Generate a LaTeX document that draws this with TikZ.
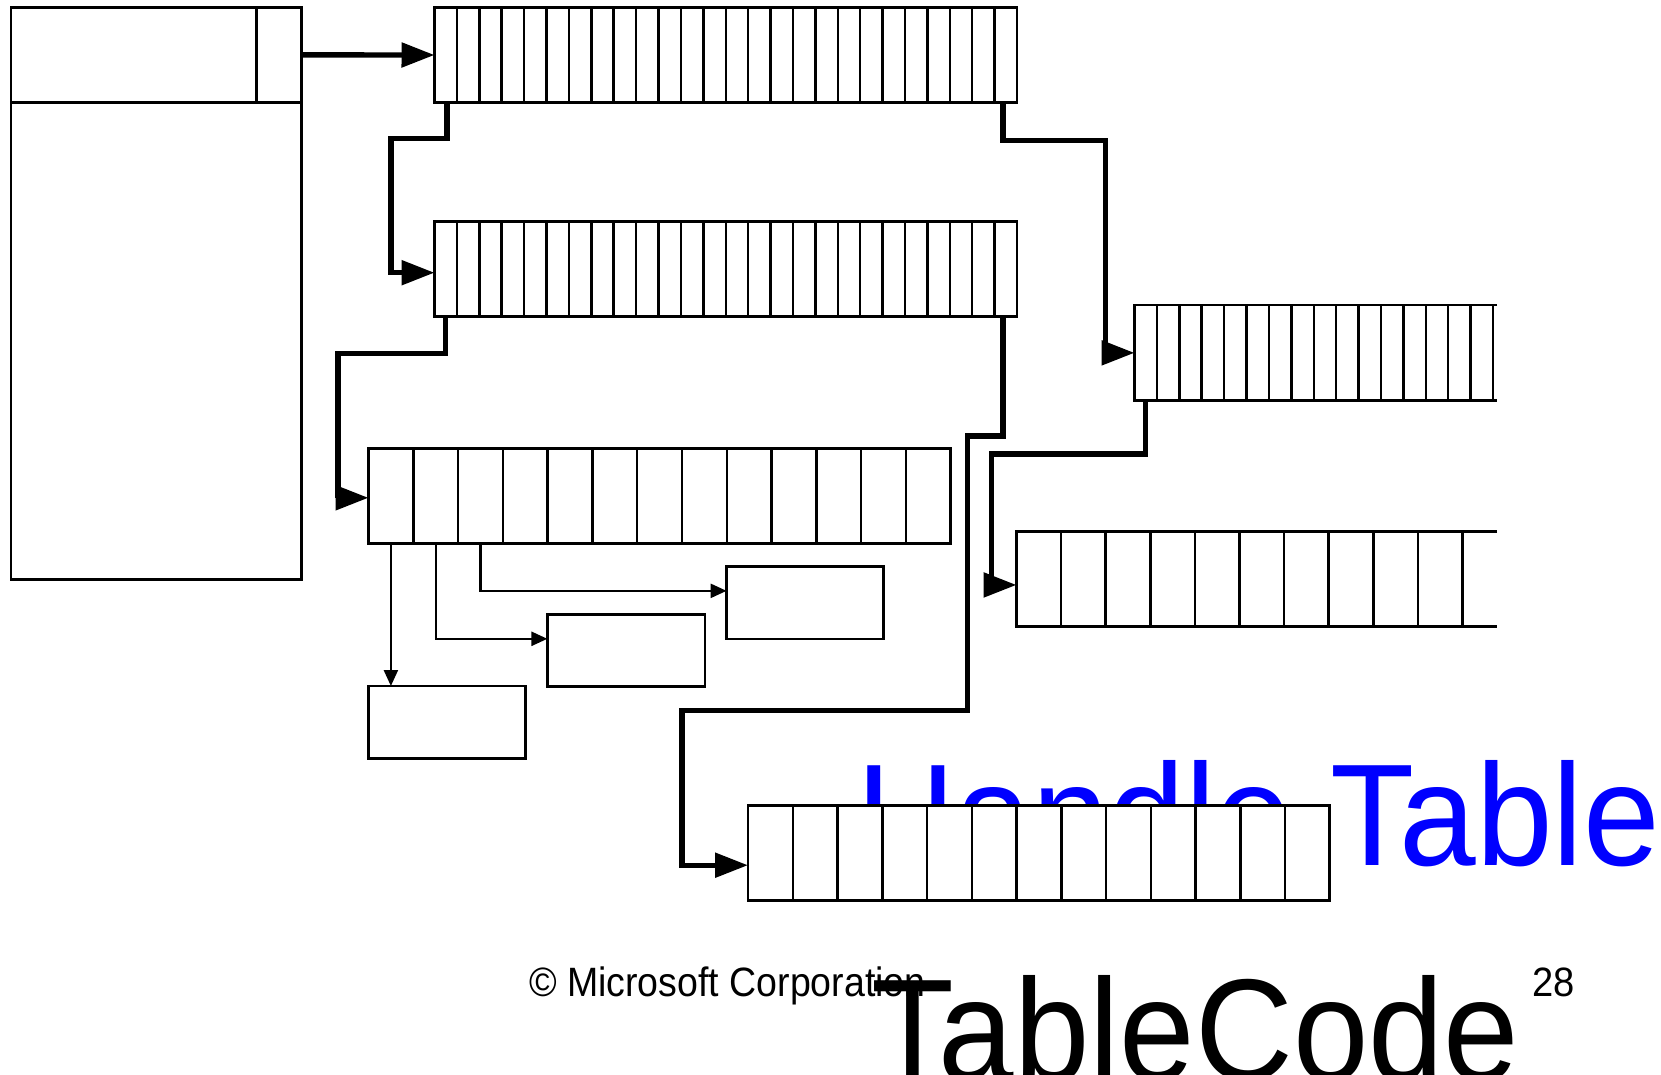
\documentclass[tikz,border=0pt]{standalone}
\usepackage{fontspec}
\setmainfont{Liberation Sans}
\usepackage{graphicx}
\usetikzlibrary{arrows.meta}
\tikzset{
  cellbox/.style={draw, line width=2.8pt, fill=white, inner sep=0pt, outer sep=0pt, anchor=north west},
  openbox/.style={inner sep=0pt, outer sep=0pt, anchor=north west},
  divline/.style={line width=2.5pt},
  edgeline/.style={line width=2.8pt},
  link/.style={line width=5.4pt, -{Triangle[length=33pt,width=24pt]}},
  ptr/.style={line width=2.4pt, -{Triangle[length=16pt,width=14pt]}},
  txt/.style={anchor=base west, inner sep=0pt, outer sep=0pt},
}
\begin{document}
\begin{tikzpicture}[x=1pt,y=-1pt]
\path[use as bounding box] (0,0) rectangle (1661,1074);
\clip (0,0) rectangle (1661,1074);
\fill[white] (0,0) rectangle (1661,1074);

% title text (partly hidden behind the bottom array)
\node[txt, text={rgb,255:red,0;green,0;blue,255}] (ht) at (856,865)
  {\fontsize{145}{150}\selectfont\scalebox{0.95}[1]{Handle Table}};

% left structure
\node[cellbox, minimum width=290.7pt, minimum height=572.2pt] (L) at (11,7.3) {};
\node[cellbox, minimum width=45.1pt, minimum height=95.2pt] (P) at (256.6,7.3) {};
\draw[edgeline] (L.west |- P.south) -- (P.south west);

% top level array
\node[cellbox, minimum width=582.5pt, minimum height=95.4pt] (A1) at (434.5,7.3) {};
\foreach \i in {1,...,25}
  \draw[divline] ([xshift=\i*22.404pt]A1.north west) -- ([xshift=\i*22.404pt]A1.south west);

% second array
\node[cellbox, minimum width=582.5pt, minimum height=95pt] (A2) at (434.5,221.7) {};
\foreach \i in {1,...,25}
  \draw[divline] ([xshift=\i*22.404pt]A2.north west) -- ([xshift=\i*22.404pt]A2.south west);

% right truncated array (fine cells)
\node[openbox, minimum width=362.5pt, minimum height=95.7pt] (A3) at (1134.5,305) {};
\fill[white] (A3.north west) rectangle (A3.south east);
\draw[edgeline] (A3.north east) -- (A3.north west) -- (A3.south west) -- (A3.south east);
\foreach \i in {1,...,16}
  \draw[divline] ([xshift=\i*22.404pt]A3.north west) -- ([xshift=\i*22.404pt]A3.south west);

% middle left array
\node[cellbox, minimum width=582.2pt, minimum height=95pt] (A4) at (368.5,448.3) {};
\foreach \i in {1,...,12}
  \draw[divline] ([xshift=\i*44.785pt]A4.north west) -- ([xshift=\i*44.785pt]A4.south west);

% right truncated array (wide cells)
\node[openbox, minimum width=480.5pt, minimum height=95.5pt] (A5) at (1016.5,531.2) {};
\fill[white] (A5.north west) rectangle (A5.south east);
\draw[edgeline] (A5.north east) -- (A5.north west) -- (A5.south west) -- (A5.south east);
\foreach \i in {1,...,10}
  \draw[divline] ([xshift=\i*44.6pt]A5.north west) -- ([xshift=\i*44.6pt]A5.south west);

% bottom array
\node[cellbox, minimum width=581.7pt, minimum height=95pt] (A6) at (748,805.7) {};
\foreach \i in {1,...,12}
  \draw[divline] ([xshift=\i*44.75pt]A6.north west) -- ([xshift=\i*44.75pt]A6.south west);

% small boxes
\node[cellbox, minimum width=157.3pt, minimum height=72.3pt] (B1) at (368.5,686) {};
\node[cellbox, minimum width=157.6pt, minimum height=72pt] (B2) at (547.4,614.3) {};
\node[cellbox, minimum width=157pt, minimum height=72.3pt] (B3) at (726.6,566.7) {};

% thick connectors
\draw[link] (P.east) -- (A1.west);
\draw[link] ([xshift=12.5pt]A1.south west) -- ++(0,35.5) -- ++(-56,0) |- ([yshift=-3.5pt]A2.west);
\draw[link] ([xshift=-14pt]A1.south east) -- ++(0,38) -| ([xshift=-29pt]A3.west) -- (A3.west);
\draw[link] ([xshift=11pt]A2.south west) -- ++(0,36.6) -| ([xshift=-30.5pt,yshift=-2pt]A4.west) -- ([yshift=-2pt]A4.west);
\draw[link] ([xshift=-14pt]A2.south east) -- ++(0,119.3) -- ++(-35.6,0) -- ++(0,274.5) -| ([xshift=-66pt,yshift=-12pt]A6.west) -- ([yshift=-12pt]A6.west);
\draw[link] ([xshift=11pt]A3.south west) -- ++(0,53.3) -| ([xshift=-24.8pt,yshift=-6pt]A5.west) -- ([yshift=-6pt]A5.west);

% thin pointers from the middle array
\draw[ptr] ([xshift=22.4pt]A4.south west) -- ([xshift=22.4pt]B1.north west);
\draw[ptr] ([xshift=67.2pt]A4.south west) |- ([yshift=11.5pt]B2.west);
\draw[ptr] ([xshift=112pt]A4.south west) |- ([yshift=12pt]B3.west);

% footer texts
\node[txt] (cp) at (529,996) {\fontsize{41}{44}\selectfont\scalebox{0.915}[1]{© Microsoft Corporation}};
\node[txt] (pg) at (1532,996) {\fontsize{41}{44}\selectfont\scalebox{0.93}[1]{28}};
\node[txt] (tc) at (871,1080) {\fontsize{145}{150}\selectfont\scalebox{0.935}[1]{TableCode}};
\end{tikzpicture}
\end{document}
